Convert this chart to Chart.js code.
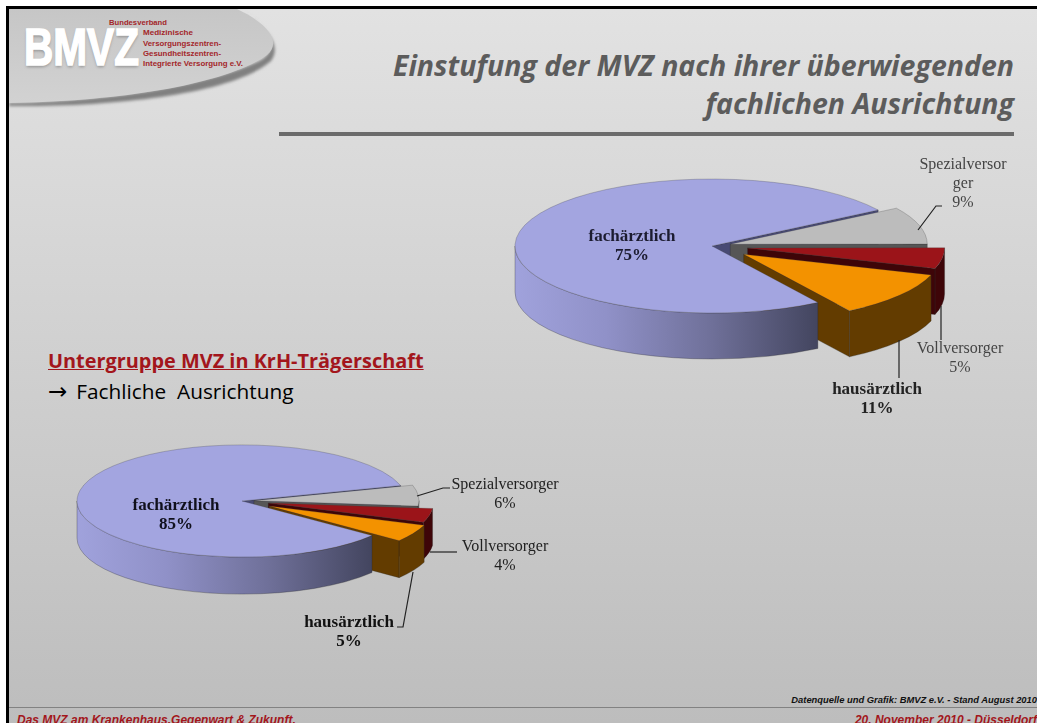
<!DOCTYPE html>
<html lang="de">
<head>
<meta charset="utf-8">
<title>Einstufung der MVZ</title>
<script src="https://cdn.jsdelivr.net/npm/chart.js@4"></script>
<style>
    html, body { margin: 0; padding: 0; background: #fff; }
    #slide { position: relative; width: 1037px; height: 723px; overflow: hidden; background: #fff; font-family: Lato, sans-serif; }
    #bg { position: absolute; left: 6px; top: 6px; right: 0; bottom: 0; border-left: 3px solid #000; border-top: 3px solid #000;
          background: linear-gradient(180deg, #e2e2e2 0%, #bdbdbd 100%); }
    .abs { position: absolute; white-space: nowrap; }
    canvas { position: absolute; }
    #title { right: 23px; text-align: right; font: italic 700 28.5px/38px "Open Sans", sans-serif; color: #5c5c5c; top: 46px; }
    #rule { left: 279px; top: 132px; width: 735px; height: 4px; background: #6b6b6b; }
    #sub { left: 48px; top: 348px; font: 700 19.9px/26px "Open Sans", sans-serif; color: #a3161c; text-decoration: underline; }
    #sub2 { left: 48px; top: 378px; font: 400 20.8px/26px "Open Sans", sans-serif; color: #000; }
    #sub2 span { font: 400 23px/26px "DejaVu Sans", sans-serif; margin-right: 9px; }
    #footrule { left: 9px; right: 0; top: 707px; height: 1px; background: #828282; }
    .foot { font: italic 700 12px/14px "Liberation Sans", sans-serif; color: #a3161c; top: 713px; }
    #source { right: 0; top: 694px; font: italic 700 9.4px/12px "Liberation Sans", sans-serif; color: #111; }
    #logo { left: 9px; top: 9px; }
</style>
</head>
<body>
<div id="slide">
    <div id="bg"></div>
    <svg id="logo" class="abs" width="290" height="110" viewBox="0 0 290 110">
        <defs>
            <linearGradient id="lg" x1="0" y1="0" x2="0" y2="1">
                <stop offset="0" stop-color="#c6c6c6"/><stop offset="1" stop-color="#d2d2d2"/>
            </linearGradient>
            <filter id="blur" x="-10%" y="-30%" width="120%" height="160%"><feGaussianBlur stdDeviation="1.6"/></filter>
        </defs>
        <path d="M0 94 C110 92 205 74 250 52 C268 42 268 26 236 2 C262 22 272 38 262 52 C225 84 110 98 0 97 Z" fill="#808080" filter="url(#blur)"/>
        <path d="M0 0 L228 0 C262 16 272 34 258 46 C215 76 110 92 0 94 Z" fill="url(#lg)"/>
        <text x="15" y="56" font-family="Liberation Sans" font-weight="700" font-size="52" fill="#777" opacity=".7" textLength="115" lengthAdjust="spacingAndGlyphs" filter="url(#blur)" transform="translate(0 2)">BMVZ</text>
        <text x="15" y="56" font-family="Liberation Sans" font-weight="700" font-size="52" fill="#fff" stroke="#fff" stroke-width="1.6" textLength="115" lengthAdjust="spacingAndGlyphs">BMVZ</text>
        <g font-family="Liberation Sans" font-weight="700" font-size="8" fill="#a3262a">
            <text x="100" y="16" textLength="58" lengthAdjust="spacingAndGlyphs">Bundesverband</text>
            <text x="134" y="26" textLength="50" lengthAdjust="spacingAndGlyphs">Medizinische</text>
            <text x="134" y="37" textLength="78" lengthAdjust="spacingAndGlyphs">Versorgungszentren-</text>
            <text x="134" y="47" textLength="78" lengthAdjust="spacingAndGlyphs">Gesundheitszentren-</text>
            <text x="134" y="57" textLength="100" lengthAdjust="spacingAndGlyphs">Integrierte Versorgung e.V.</text>
        </g>
    </svg>
    <div id="title" class="abs">Einstufung der MVZ nach ihrer überwiegenden<br>fachlichen Ausrichtung</div>
    <div id="rule" class="abs"></div>
    <div id="sub" class="abs">Untergruppe MVZ in KrH-Trägerschaft</div>
    <div id="sub2" class="abs"><span>→</span>Fachliche&nbsp; Ausrichtung</div>
    <canvas id="pieTop"></canvas>
    <canvas id="pieBottom"></canvas>
    <div id="source" class="abs">Datenquelle und Grafik: BMVZ e.V. - Stand August 2010</div>
    <div id="footrule" class="abs"></div>
    <div class="abs foot" style="left:17px">Das MVZ am Krankenhaus.Gegenwart &amp; Zukunft.</div>
    <div class="abs foot" style="right:0">20. November 2010 - Düsseldorf</div>
</div>
<script>
// chart values
const categories = ["fachärztlich", "Spezialversorger", "Vollversorger", "hausärztlich"];
const topValues = [75, 9, 5, 11];
const bottomValues = [85, 6, 4, 5];
const sliceColors = ["#a3a5e0", "#bcbcbc", "#9b1419", "#f39200"];
const sideColors = ["#484a74", "#565656", "#3e0508", "#633c00"];

// Squashes the flat pie and adds the walls, drawing the library's own arc elements
function pie3d(tilt, depth, explode) {
    function moved(arc, i) {
        const mid = (arc.startAngle + arc.endAngle) / 2;
        return { x: arc.x + Math.cos(mid) * explode[i], y: arc.y + Math.sin(mid) * explode[i] * tilt };
    }

    function drawTop(ctx, arc, i) {
        const c = moved(arc, i);
        ctx.save();
        ctx.translate(c.x, c.y);
        ctx.scale(1, tilt);
        ctx.translate(-arc.x, -arc.y);
        arc.draw(ctx);
        ctx.restore();
    }

    function drawRadialWall(ctx, arc, i) {
        const c = moved(arc, i);
        const a = arc.endAngle;
        if (Math.cos(a) <= 0) return;
        const ex = c.x + Math.cos(a) * arc.outerRadius;
        const ey = c.y + Math.sin(a) * arc.outerRadius * tilt;
        ctx.beginPath();
        ctx.moveTo(c.x, c.y);
        ctx.lineTo(ex, ey);
        ctx.lineTo(ex, ey + depth);
        ctx.lineTo(c.x, c.y + depth);
        ctx.closePath();
        ctx.fillStyle = sideColors[i];
        ctx.fill();
        ctx.strokeStyle = "rgba(40,40,40,0.5)";
        ctx.lineWidth = 0.6;
        ctx.stroke();
    }

    function drawOuterWall(ctx, arc, i) {
        const c = moved(arc, i);
        const r = arc.outerRadius;
        const two = Math.PI * 2;
        let a0 = arc.startAngle % two;
        if (a0 < 0) a0 += two;
        const a1 = a0 + (arc.endAngle - arc.startAngle);
        // only the part facing the viewer
        [[0, Math.PI], [two, two + Math.PI]].forEach(([lo, hi]) => {
            const from = Math.max(a0, lo), to = Math.min(a1, hi);
            if (to <= from) return;
            ctx.beginPath();
            ctx.ellipse(c.x, c.y, r, r * tilt, 0, from, to);
            ctx.ellipse(c.x, c.y + depth, r, r * tilt, 0, to, from, true);
            ctx.closePath();
            if (i === 0) {
                const x0 = c.x + Math.cos(to) * r, x1 = c.x + Math.cos(from) * r;
                const g = ctx.createLinearGradient(x0, 0, x1, 0);
                g.addColorStop(0, "#a0a2dc");
                g.addColorStop(0.3, "#9091c8");
                g.addColorStop(0.65, "#6f7099");
                g.addColorStop(1, "#43455f");
                ctx.fillStyle = g;
            } else {
                ctx.fillStyle = sideColors[i];
            }
            ctx.fill();
            ctx.strokeStyle = "rgba(40,40,40,0.5)";
            ctx.lineWidth = 0.6;
            ctx.stroke();
        });
    }

    return {
        id: "pie3d",
        beforeDatasetDraw(chart, args) {
            const ctx = chart.ctx;
            const arcs = args.meta.data;
            // the big slice has to sit in front of the exploded ones, except its back wall
            drawRadialWall(ctx, arcs[0], 0);
            for (let i = 1; i < arcs.length; i++) {
                drawRadialWall(ctx, arcs[i], i);
                drawOuterWall(ctx, arcs[i], i);
                drawTop(ctx, arcs[i], i);
            }
            drawOuterWall(ctx, arcs[0], 0);
            drawTop(ctx, arcs[0], 0);
            return false;
        }
    };
}

// Labels and leader lines, given in slide coordinates
function pieLabels(values, origin, items) {
    return {
        id: "pieLabels",
        afterDatasetsDraw(chart) {
            const ctx = chart.ctx;
            ctx.save();
            ctx.translate(-origin.left, -origin.top);
            ctx.textAlign = "center";
            ctx.textBaseline = "middle";
            items.forEach((item, i) => {
                if (item.line) {
                    ctx.beginPath();
                    item.line.forEach((p, n) => n ? ctx.lineTo(p[0], p[1]) : ctx.moveTo(p[0], p[1]));
                    ctx.strokeStyle = "#222";
                    ctx.lineWidth = 1.2;
                    ctx.stroke();
                }
                const lines = (item.lines || [categories[i]]).concat(values[i] + "%");
                ctx.font = item.bold ? "700 17px 'Liberation Serif', serif" : "400 16px 'Liberation Serif', serif";
                ctx.fillStyle = item.color;
                lines.forEach((t, n) => ctx.fillText(t, item.x, item.y + 1 + n * 19));
            });
            ctx.restore();
        }
    };
}

function makePie(id, values, rotation, radius, tilt, depth, explode, box, items) {
    const canvas = document.getElementById(id);
    canvas.style.left = box.left + "px";
    canvas.style.top = box.top + "px";
    canvas.style.width = box.width + "px";
    canvas.style.height = box.height + "px";
    canvas.width = box.width;
    canvas.height = box.height;
    return new Chart(canvas.getContext("2d"), {
        type: "pie",
        data: {
            labels: categories,
            datasets: [{
                data: values,
                backgroundColor: sliceColors,
                borderColor: "rgba(60,60,60,0.55)",
                borderWidth: 0.7
            }]
        },
        options: {
            responsive: false,
            animation: false,
            rotation: rotation,
            radius: radius,
            plugins: { legend: { display: false }, tooltip: { enabled: false } }
        },
        plugins: [pie3d(tilt, depth, explode), pieLabels(values, box, items)]
    });
}

makePie("pieTop", topValues, 147.5, 197, 0.34, 46, [0, 19, 36, 40],
    { left: 387, top: 66, width: 650, height: 360 },
    [
        { x: 632, y: 236, bold: true, color: "#1c1c30" },
        { x: 963, y: 164, color: "#444", lines: ["Spezialversor", "ger"], line: [[918, 230], [936, 206], [942, 206]] },
        { x: 960, y: 348, color: "#444", line: [[941, 306], [941, 340]] },
        { x: 877, y: 389, bold: true, color: "#222", line: [[899, 340], [899, 378]] }
    ]);

makePie("pieBottom", bottomValues, 128, 165, 0.34, 37, [0, 12, 27, 31],
    { left: -88, top: 331, width: 660, height: 340 },
    [
        { x: 176, y: 505, bold: true, color: "#10101c" },
        { x: 505, y: 484, color: "#222", line: [[417, 496], [443, 488], [450, 488]] },
        { x: 505, y: 546, color: "#222", line: [[430, 552], [457, 552]] },
        { x: 349, y: 622, bold: true, color: "#111", line: [[413, 572], [403, 627], [397, 627]] }
    ]);
</script>
</body>
</html>
